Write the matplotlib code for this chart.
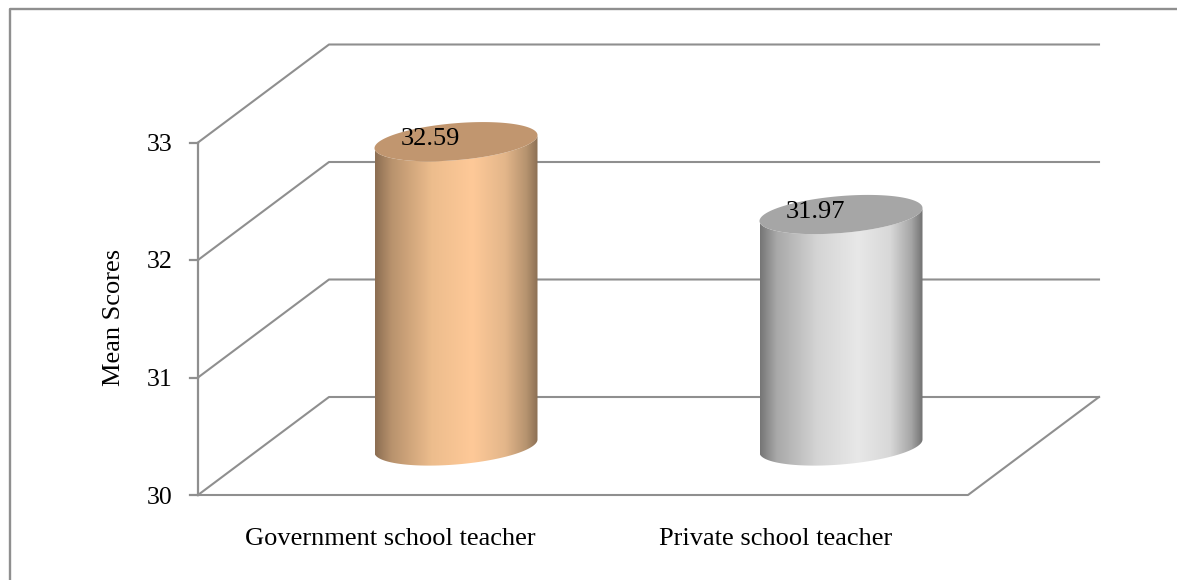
import numpy as np
import matplotlib
matplotlib.use('Agg')
import matplotlib.pyplot as plt
from matplotlib.colors import LinearSegmentedColormap
from matplotlib.patches import Polygon

categories = ['Government school teacher', 'Private school teacher']
values = [32.59, 31.97]
yticks = [30, 31, 32, 33]
ylabel = 'Mean Scores'

body_colors = [
    [(0, '#8c6e52'), (0.1, '#b8926d'), (0.35, '#edbd8d'), (0.6, '#fec998'),
     (0.8, '#e3b68a'), (0.93, '#b6936f'), (1, '#8c7055')],
    [(0, '#767676'), (0.1, '#a8a8a8'), (0.35, '#d4d4d4'), (0.6, '#e8e8e8'),
     (0.8, '#d8d8d8'), (0.93, '#a6a6a6'), (1, '#727272')],
]
top_colors = ['#c1966f', '#a6a6a6']
line_color = '#8f8f8f'

W, H = 1177, 580
plt.rcParams['font.family'] = ['Liberation Serif', 'DejaVu Serif']

fig = plt.figure(figsize=(W / 100, H / 100), dpi=100)
ax = fig.add_axes([0, 0, 1, 1])

# pixel anchors of the plot, the scales below come from these
x0_px, cat_px = 198, 385
y0_px, unit_px = 495, 117.5
ax.set_xlim(-x0_px / cat_px, (W - x0_px) / cat_px)
ax.set_ylim(30 - (H - y0_px) / unit_px, 30 + y0_px / unit_px)
ax.axis('off')

depth_x = 131 / cat_px
depth_y = 98 / unit_px
n = len(categories)

# outer chart border, cut off by the page
ax.plot([9.5 / cat_px - x0_px / cat_px, 9.5 / cat_px - x0_px / cat_px, (W - x0_px) / cat_px],
        [30 - (H - y0_px) / unit_px, 30 + (y0_px - 8.5) / unit_px, 30 + (y0_px - 8.5) / unit_px],
        color=line_color, lw=1.7, clip_on=False)

# back wall, side wall, floor
for t in yticks:
    ax.plot([0, depth_x, n + depth_x], [t, t + depth_y, t + depth_y], color=line_color, lw=1.5)
    ax.plot([-8 / cat_px, 0], [t, t], color=line_color, lw=1.6)
    ax.text(-26 / cat_px, t - 2.5 / unit_px, str(t), ha='right', va='center', fontsize=18.5, color='black')
ax.plot([0, 0], [yticks[0], yticks[-1]], color=line_color, lw=1.6)
ax.plot([0, n, n + depth_x], [30, 30, 30 + depth_y], color=line_color, lw=1.5)

# cylinders
half_w = 81.5 / cat_px
tilt = 6.5 / unit_px
half_h = 18.5 / unit_px
t = np.linspace(0, 2 * np.pi, 200)
for i, v in enumerate(values):
    cx = i + 0.5 + depth_x / 2
    base = 30 + depth_y / 2
    top = v + depth_y / 2
    ex = cx + half_w * np.cos(t)
    ey = tilt * np.cos(t) + half_h * np.sin(t)
    low = t[(t >= np.pi) & (t <= 2 * np.pi)]
    lx = cx + half_w * np.cos(low)
    ly = tilt * np.cos(low) + half_h * np.sin(low)
    outline = np.column_stack([
        np.r_[cx - half_w, lx, cx + half_w, lx[::-1]],
        np.r_[top - tilt, base + ly, top + tilt, top + ly[::-1]],
    ])
    cmap = LinearSegmentedColormap.from_list('body%d' % i, body_colors[i])
    im = ax.imshow(np.linspace(0, 1, 256)[None, :], cmap=cmap, aspect='auto', zorder=3,
                   extent=[cx - half_w, cx + half_w, 29.5, v + 1], interpolation='bilinear')
    clip = Polygon(outline, closed=True, transform=ax.transData, fc='none', ec='none')
    ax.add_patch(clip)
    im.set_clip_path(clip)
    ax.fill(ex, top + ey, color=top_colors[i], lw=0, zorder=4)
    ax.text(cx - 26 / cat_px, top + 3 / unit_px, '%.2f' % v, ha='center', va='center',
            fontsize=19, color='black', zorder=5)
    ax.text(i + 0.5, 30 - 44 / unit_px, categories[i], ha='center', va='center', fontsize=19, color='black')

ax.set_xlim(-x0_px / cat_px, (W - x0_px) / cat_px)
ax.set_ylim(30 - (H - y0_px) / unit_px, 30 + y0_px / unit_px)

ax.text(-84 / cat_px, 30 + 178 / unit_px, ylabel, rotation=90, ha='center', va='center',
        fontsize=19, color='black')

fig.savefig('out.png', dpi=100)
